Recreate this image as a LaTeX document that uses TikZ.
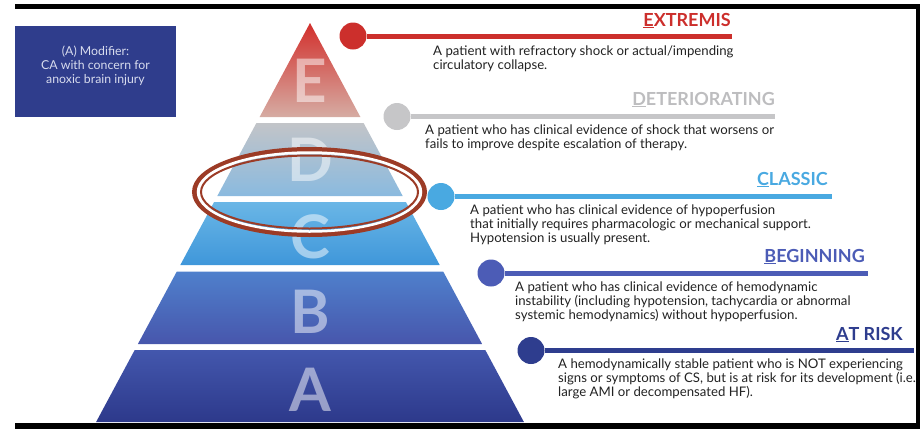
\documentclass[tikz,border=0pt]{standalone}
\usepackage{fontspec}
\setmainfont{Lato}
\definecolor{cRed}{HTML}{CC2F2C}
\definecolor{cGray}{HTML}{C6C6C8}
\definecolor{cGrayT}{HTML}{BDBDBF}
\definecolor{cLBlue}{HTML}{49A9E1}
\definecolor{cMBlue}{HTML}{4C5CB6}
\definecolor{cDBlue}{HTML}{2E3D8E}
\definecolor{boxBlue}{HTML}{2F3D8C}
\definecolor{modText}{HTML}{D8DCEE}
\definecolor{ringBrown}{HTML}{9C3B26}
\definecolor{descGray}{HTML}{222222}
\definecolor{eTop}{HTML}{D22F2C}
\definecolor{eBot}{HTML}{D6ACA3}
\definecolor{dTop}{HTML}{C2C4C8}
\definecolor{dBot}{HTML}{8ABADF}
\definecolor{cTop}{HTML}{6AB6E6}
\definecolor{cBot}{HTML}{3F97DA}
\definecolor{bTop}{HTML}{4F80CC}
\definecolor{bBot}{HTML}{4756AC}
\definecolor{aTop}{HTML}{4357AD}
\definecolor{aBot}{HTML}{2D398B}
\newcommand{\lines}[1]{\begin{tabular}[t]{@{}l@{}}#1\end{tabular}}
\newcommand{\clines}[1]{\begin{tabular}[t]{@{}c@{}}#1\end{tabular}}
\tikzset{
  dotnode/.style={circle, inner sep=0pt, minimum size=27pt},
  conn/.style={line width=5pt},
  titletext/.style={anchor=base east, inner sep=0pt, font=\fontsize{18}{18}\selectfont\bfseries},
  desctext/.style={anchor=base west, inner sep=0pt, text=descGray, font=\fontsize{13.2}{14}\selectfont},
  tierletter/.style={inner sep=0pt, text=white, text opacity=0.5, font=\fontsize{60}{60}\selectfont\bfseries},
}
\begin{document}
\begin{tikzpicture}[x=1pt,y=-1pt]
\useasboundingbox (0,0) rectangle (920,429);
% frame
\fill[black] (15,4) rectangle (920,9);
\fill[black] (916,4) rectangle (920,429);
\fill[black] (15,423) rectangle (920,429);
% modifier box
\node[fill=boxBlue, minimum width=161pt, minimum height=91pt, inner sep=0pt, anchor=north west] (modbox) at (15,26) {};
\node[anchor=base, inner sep=0pt, text=modText, font=\fontsize{12.3}{14}\selectfont] (modtxt) at (95.5,55)
  {\clines{(A) Modifier:\\CA with concern for\\anoxic brain injury}};
% pyramid tiers (half width = 0.536*(y-23))
\shade[top color=eTop, bottom color=eBot] (310,23) -- (360.4,117) -- (259.6,117) -- cycle;
\shade[top color=dTop, bottom color=dBot] (256.4,123) -- (363.6,123) -- (402.7,196) -- (217.3,196) -- cycle;
\shade[top color=cTop, bottom color=cBot] (214.1,202) -- (405.9,202) -- (439.7,265) -- (180.3,265) -- cycle;
\shade[top color=bTop, bottom color=bBot] (176.8,271.5) -- (443.2,271.5) -- (482.1,344) -- (137.9,344) -- cycle;
\shade[top color=aTop, bottom color=aBot] (134.7,350) -- (485.3,350) -- (523.9,422) -- (96.1,422) -- cycle;
\node[tierletter] (LE) at (310,81) {E};
\node[tierletter] (LD) at (310,160) {D};
\node[tierletter] (LC) at (310,236.5) {C};
\node[tierletter] (LB) at (310,311.5) {B};
\node[tierletter] (LA) at (310,390) {A};
% highlight ring
\draw[ringBrown, line width=5pt] (309.5,192) ellipse [x radius=115, y radius=42.5];
\draw[white, line width=2.5pt] (309.5,192) ellipse [x radius=111.5, y radius=39.5];
\draw[ringBrown, line width=2pt] (309.5,192) ellipse [x radius=108.5, y radius=36.5];
% connectors
\node[dotnode, fill=cRed] (dE) at (353,36) {};
\coordinate (eE) at (732,36);
\draw[conn, cRed] (dE) -- (eE);
\node[dotnode, fill=cGray] (dD) at (397,116.5) {};
\coordinate (eD) at (775,116.5);
\draw[conn, cGray] (dD) -- (eD);
\node[dotnode, fill=cLBlue] (dC) at (441,196.5) {};
\coordinate (eC) at (832,196.5);
\draw[conn, cLBlue] (dC) -- (eC);
\node[dotnode, fill=cMBlue] (dB) at (491,273) {};
\coordinate (eB) at (868,273);
\draw[conn, cMBlue] (dB) -- (eB);
\node[dotnode, fill=cDBlue] (dA) at (531,350.5) {};
\coordinate (eA) at (914,350.5);
\draw[conn, cDBlue] (dA) -- (eA);
% titles
\node[titletext, text=cRed] (tE) at (731,26) {\underline{E}XTREMIS};
\node[titletext, text=cGrayT] (tD) at (775,105) {\underline{D}ETERIORATING};
\node[titletext, text=cLBlue] (tC) at (828,185) {\underline{C}LASSIC};
\node[titletext, text=cMBlue] (tB) at (865,262) {\underline{B}EGINNING};
\node[titletext, text=cDBlue] (tA) at (903,340) {\underline{A}T RISK};
% descriptions
\node[desctext] (xE) at (433,55) {\lines{A patient with refractory shock or actual/impending\\circulatory collapse.}};
\node[desctext] (xD) at (425,134) {\lines{A patient who has clinical evidence of shock that worsens or\\fails to improve despite escalation of therapy.}};
\node[desctext] (xC) at (470,214) {\lines{A patient who has clinical evidence of hypoperfusion\\that initially requires pharmacologic or mechanical support.\\Hypotension is usually present.}};
\node[desctext] (xB) at (515,291) {\lines{A patient who has clinical evidence of hemodynamic\\instability (including hypotension, tachycardia or abnormal\\systemic hemodynamics) without hypoperfusion.}};
\node[desctext] (xA) at (558,368) {\lines{A hemodynamically stable patient who is NOT experiencing\\signs or symptoms of CS, but is at risk for its development (i.e.\\large AMI or decompensated HF).}};
\end{tikzpicture}
\end{document}
